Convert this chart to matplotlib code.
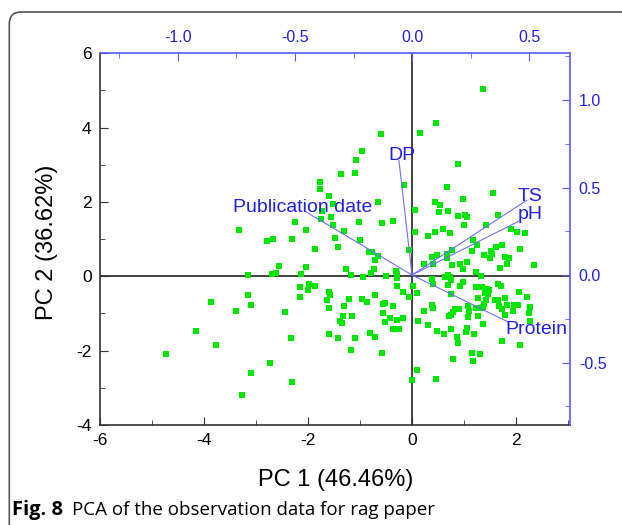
import matplotlib
matplotlib.use("Agg")
import matplotlib.pyplot as plt
from matplotlib.patches import FancyBboxPatch
from matplotlib.ticker import MultipleLocator, FormatStrFormatter

# scores (bottom / left axes)
pc1 = [-0.60, -0.97, -1.08, -1.37, -1.10, -1.77, -1.76, -1.60, -1.51, -0.65,
       -0.58, -3.32, -2.24, -2.04, -2.79, -2.68, -2.30, -1.87, -1.48, -1.42,
       -1.31, -0.99, -0.82, -0.76, -0.72, -0.66, -2.55, -2.69, -2.62, -3.15,
       -2.14, -2.03, -1.27, -1.18, -0.73, -0.79, -0.49, -0.16, -1.73, -1.74,
       -1.56, -1.51, -1.02, -0.37, -0.06, -0.31, -0.29,
       0.15, 0.47, 1.36, 0.88, 0.67, 1.56, 0.06, 0.45, 0.54, 0.53,
       0.69, 0.88, 0.99, 1.03, 1.06, 1.01, 1.65, 1.42, 0.06, 0.31,
       0.44, 0.59, 0.73, 1.90, 2.03, 2.17, 1.17, 1.25, 0.77, 0.68,
       0.48, 0.39, 1.16, 1.38, 1.53, 1.54, 1.62, 1.74, 1.51, 1.79,
       1.86, 2.07, 2.35, 0.23, 0.40, 0.67, 0.77, 0.92, 1.06, 0.99,
       1.23, 1.69, 1.83, 0.70, 1.32,
       -3.15, -3.10, -3.87, -3.39, -4.15, -3.77, -4.73, -3.26, -3.09, -2.73,
       -2.44, -2.32, -2.31, -0.94, -0.28, -0.28, -0.17, -0.06, -2.15, -1.98,
       -1.87, -1.99, -2.15, -1.59, -1.58, -1.64, -1.60, -1.22, -1.31, -0.96,
       -0.86, -0.72, -0.55, -0.51, -0.37, -0.56, -0.43, -0.29, -0.17, -0.52,
       -0.36, -0.24, -1.33, -1.16, -1.38, -1.35, -1.60, -1.43, -1.10, -0.81,
       -0.71, -1.18, -0.58,
       0.63, 0.69, 0.73, 0.75, 0.38, 0.03, 0.41, 0.69, 0.92, 0.99,
       1.24, 1.34, 1.44, 1.48, 1.40, 1.46, 1.66, 1.71, 2.06, 2.21,
       0.09, 0.76, 1.28, 1.42, 1.38, 1.36, 1.33, 1.60, 1.66, 1.79,
       1.68, 1.74, 1.83, 1.96, 2.04, 1.94, 1.79, 2.27, 2.26, 2.27,
       0.38, 0.41, 0.23, 0.83, 0.90, 0.79, 0.76, 0.72, 1.08, 1.10,
       1.23, 1.08, 1.28, 0.12, 0.31, 0.49, 0.62, 0.75, 1.05, 1.04,
       1.19, 1.36, 0.86, 0.88, 1.74, 2.08, 1.15, 1.31, 0.79, 1.18,
       0.10, 0.46, 0.01]
pc2 = [3.83, 3.37, 3.13, 2.74, 2.78, 2.54, 2.36, 2.15, 1.94, 2.01,
       1.43, 1.24, 1.46, 1.24, 0.96, 1.01, 1.01, 0.74, 1.03, 0.78,
       1.21, 0.99, 0.65, 0.65, 0.45, 0.54, 0.27, 0.07, 0.09, 0.03,
       0.06, 0.24, 0.20, 0.03, 0.20, 0.09, 0.00, 2.46, 1.75, 1.53,
       1.60, 1.37, 1.46, 1.48, 0.70, 0.15, 0.05,
       3.85, 4.12, 5.03, 3.03, 2.41, 2.25, 1.78, 2.01, 1.91, 1.73,
       1.76, 1.61, 2.08, 1.66, 1.59, 1.39, 1.64, 1.37, 1.19, 1.08,
       1.19, 1.27, 1.17, 1.26, 1.19, 1.16, 0.97, 0.83, 0.72, 0.60,
       0.57, 0.51, 0.69, 0.58, 0.67, 0.60, 0.79, 0.83, 0.48, 0.53,
       0.48, 0.74, 0.30, 0.32, 0.32, 0.48, 0.30, 0.32, 0.39, 0.21,
       0.11, 0.22, 0.34, 0.03, 0.01,
       -0.51, -0.77, -0.68, -0.92, -1.46, -1.85, -2.10, -3.20, -2.60, -2.32,
       -0.95, -1.67, -2.85, -0.03, -0.05, -0.25, -0.42, -0.56, -0.30, -0.21,
       -0.25, -0.36, -0.55, -0.42, -0.51, -0.65, -0.84, -0.62, -0.79, -0.61,
       -0.70, -0.49, -0.74, -0.73, -0.80, -0.99, -1.11, -1.18, -1.11, -1.24,
       -1.41, -1.42, -1.08, -1.07, -1.21, -1.25, -1.56, -1.67, -1.66, -1.52,
       -1.64, -1.98, -2.05,
       -0.03, 0.00, -0.03, -0.09, -0.06, -0.27, -0.21, -0.24, -0.27, -0.16,
       -0.30, -0.28, -0.33, -0.38, -0.45, -0.48, -0.22, -0.27, -0.42, -0.55,
       -0.45, -0.48, -0.58, -0.65, -0.75, -0.82, -0.85, -0.63, -0.65, -0.58,
       -0.81, -0.88, -0.76, -0.78, -0.76, -0.92, -1.03, -0.82, -1.00, -1.19,
       -0.76, -0.85, -0.92, -0.88, -0.88, -0.96, -1.03, -1.08, -0.79, -0.94,
       -0.85, -1.10, -1.06, -1.21, -1.32, -1.46, -1.56, -1.41, -1.39, -1.50,
       -1.56, -1.29, -1.64, -1.80, -1.73, -1.86, -2.07, -2.08, -2.22, -2.29,
       -2.51, -2.75, -2.80]

# loadings (top / right axes)
variables = ["Publication date", "DP", "TS", "pH", "Protein"]
load_x = [-0.457, -0.056, 0.490, 0.454, 0.410]
load_y = [0.364, 0.655, 0.427, 0.306, -0.268]
label_offsets = [(-1.5, 2.7), (2, 3.6), (2.4, 2.7), (8.4, 4.8), (20.7, -5.5)]

plt.rcParams["font.family"] = ["Liberation Sans", "DejaVu Sans"]
plt.rcParams["axes.unicode_minus"] = False

blue_line = "#5a5aff"
blue_text = "#2020e6"
dark = "#333333"

fig = plt.figure(figsize=(6.22, 5.25), dpi=100)
rect = [0.1608, 0.1905, 0.9172 - 0.1608, 0.8985 - 0.1905]
ax = fig.add_axes(rect)
ax2 = fig.add_axes(rect, label="loadings")

# scores axes
ax.set_xlim(-6, 3.05)
ax.set_ylim(-4, 6)
ax.axhline(0, color=dark, lw=1.3, zorder=1)
ax.axvline(0, color=dark, lw=1.3, zorder=1)
ax.scatter(pc1, pc2, marker="s", s=14, color="#00e600", linewidths=0, zorder=3)
ax.xaxis.set_major_locator(MultipleLocator(2))
ax.xaxis.set_minor_locator(MultipleLocator(1))
ax.yaxis.set_major_locator(MultipleLocator(2))
ax.yaxis.set_minor_locator(MultipleLocator(1))
ax.tick_params(which="both", direction="in", top=False, right=False,
               color=dark, labelsize=12.5, pad=6)
ax.tick_params(which="major", length=6)
ax.tick_params(which="minor", length=3.5)
for s in ["left", "bottom"]:
    ax.spines[s].set_color(dark)
    ax.spines[s].set_linewidth(1.2)
for s in ["top", "right"]:
    ax.spines[s].set_visible(False)

# loadings axes
ax2.patch.set_visible(False)
ax2.set_xlim(-1.333, 0.677)
ax2.set_ylim(-0.857, 1.267)
ax2.xaxis.tick_top()
ax2.yaxis.tick_right()
for s in ["left", "bottom"]:
    ax2.spines[s].set_visible(False)
for s in ["top", "right"]:
    ax2.spines[s].set_color(blue_line)
    ax2.spines[s].set_linewidth(1.2)
ax2.xaxis.set_major_locator(MultipleLocator(0.5))
ax2.xaxis.set_minor_locator(MultipleLocator(0.25))
ax2.yaxis.set_major_locator(MultipleLocator(0.5))
ax2.yaxis.set_minor_locator(MultipleLocator(0.25))
ax2.xaxis.set_major_formatter(FormatStrFormatter("%.1f"))
ax2.yaxis.set_major_formatter(FormatStrFormatter("%.1f"))
ax2.tick_params(which="both", direction="in", color=blue_line,
                labelcolor=blue_text, labelsize=11.5, pad=6)
ax2.tick_params(which="major", length=6)
ax2.tick_params(which="minor", length=3.5)

for name, lx, ly, off in zip(variables, load_x, load_y, label_offsets):
    ax2.plot([0, lx], [0, ly], color="#6e6eff", lw=0.8, zorder=4)
    ax2.annotate(name, (lx, ly), xytext=off, textcoords="offset points",
                 ha="center", va="center", color=blue_text, fontsize=14,
                 zorder=5)

fig.text(0.0751, 0.5390, "PC 2 (36.62%)", rotation=90, ha="center",
         va="center", fontsize=17)
fig.text(0.540, 0.0857, "PC 1 (46.46%)", ha="center", va="center",
         fontsize=17)

# caption and frame
frame = FancyBboxPatch((0.093, -1.0), 10, 5.13 + 1.0,
                       boxstyle="round,pad=0,rounding_size=0.12",
                       transform=fig.dpi_scale_trans, fill=False,
                       ec="#555555", lw=1.2)
fig.add_artist(frame)

t1 = fig.text(0.0193, 0.0286, "Fig. 8", family="Open Sans", fontweight="bold",
              fontsize=14.5, va="center")
fig.canvas.draw()
bb = t1.get_window_extent(fig.canvas.get_renderer())
fig.text((bb.x1 + 9) / fig.bbox.width, 0.0286,
         "PCA of the observation data for rag paper", family="Open Sans",
         fontsize=13.5, va="center")

fig.savefig("out.png", dpi=100)
